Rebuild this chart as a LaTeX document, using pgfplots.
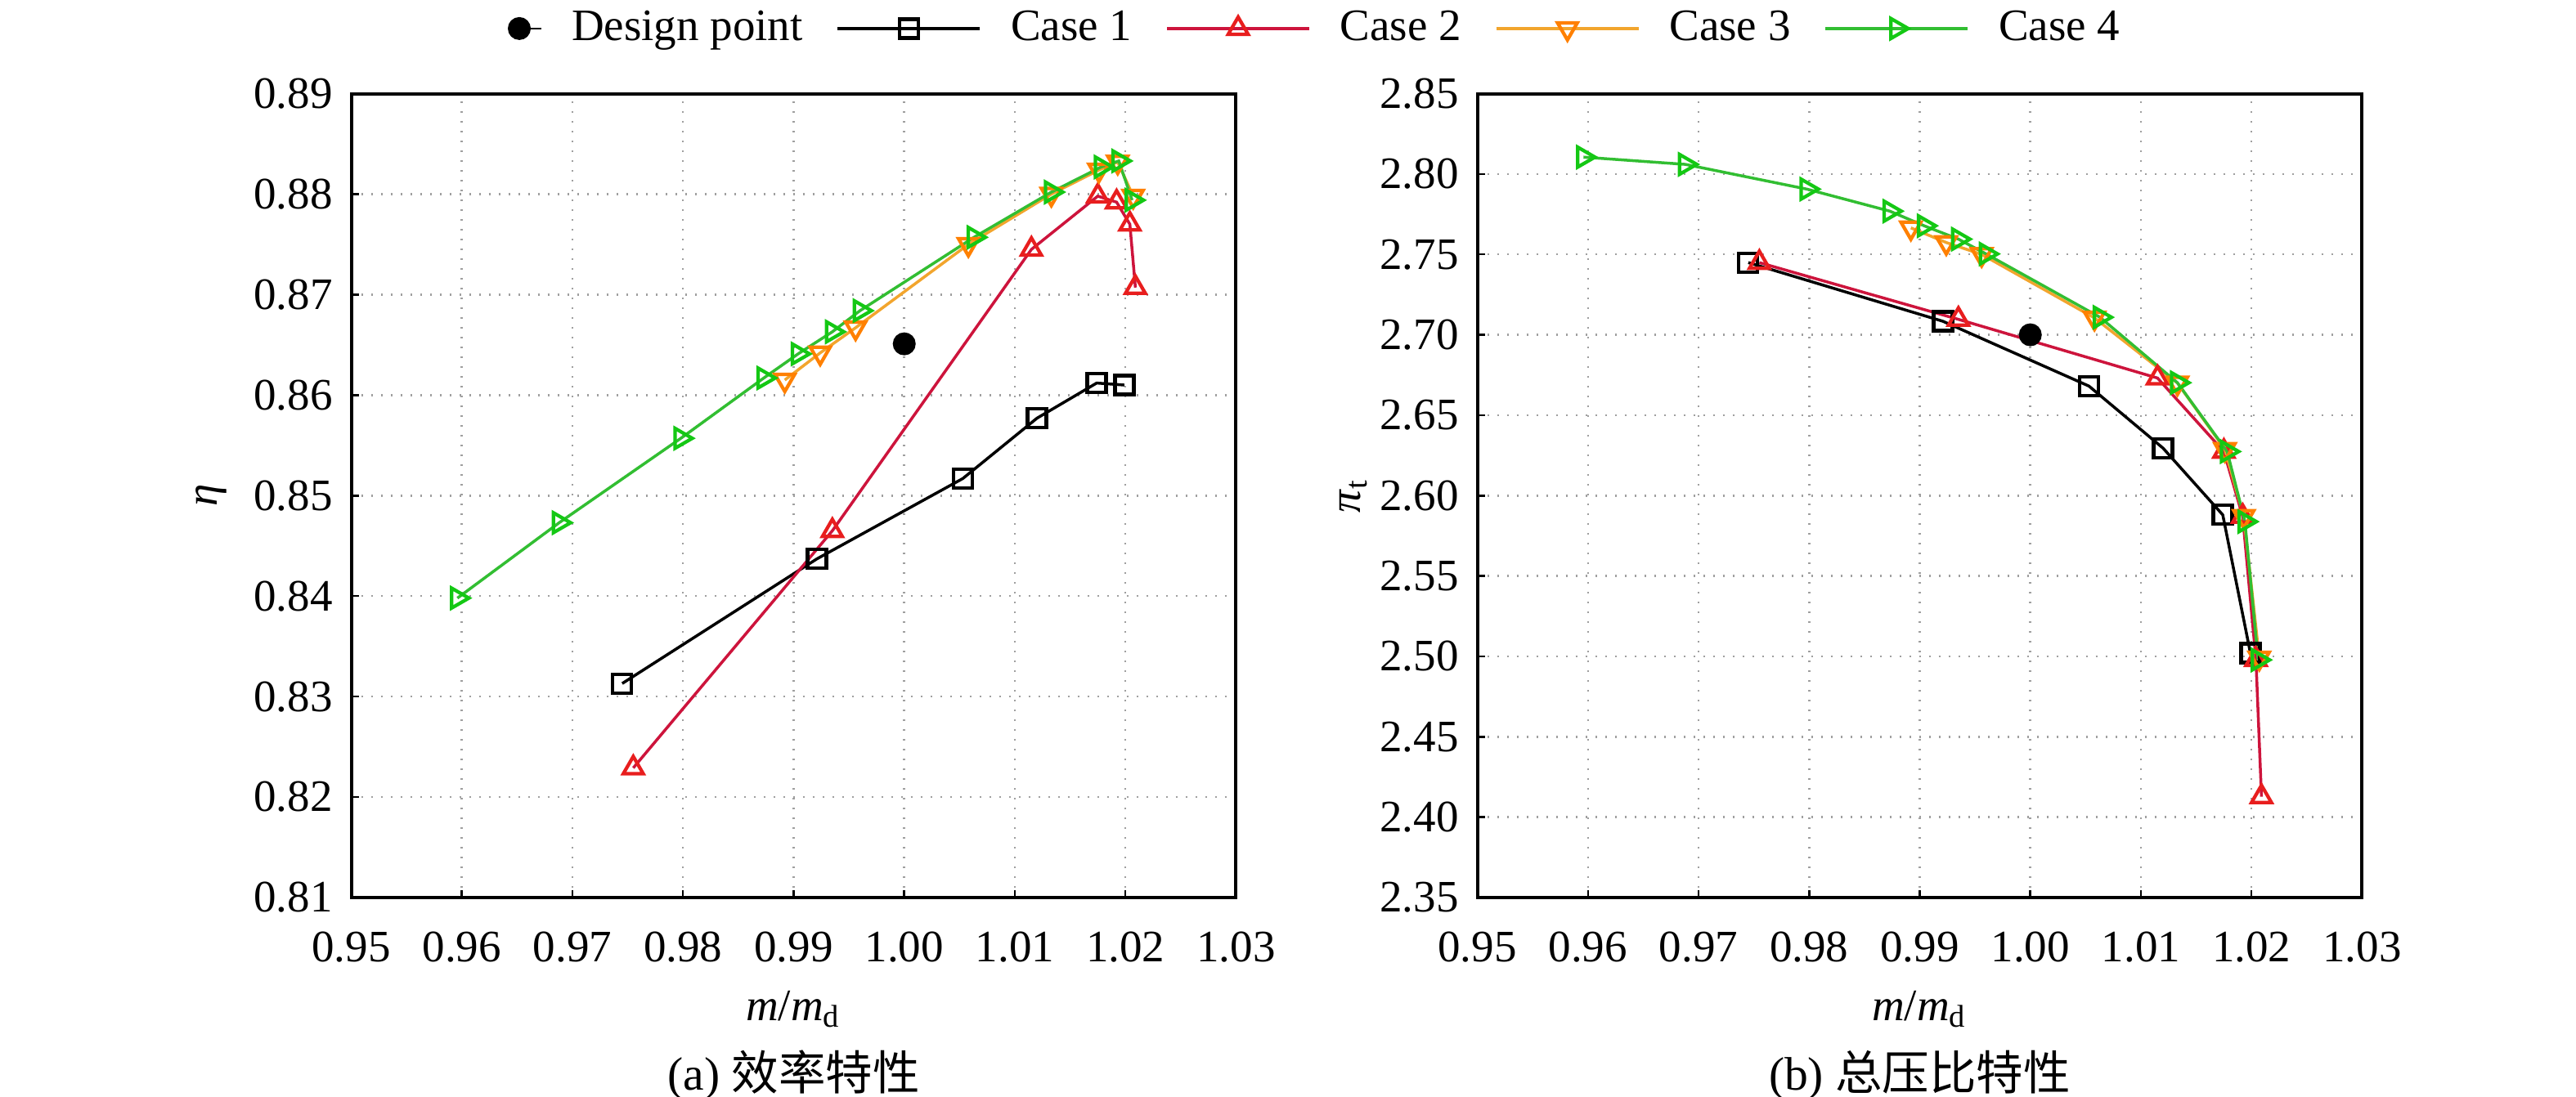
\documentclass[border=0pt]{standalone}
\usepackage{fontspec}
\setmainfont{Liberation Serif}
\newfontfamily\cjk{Noto Sans CJK SC}
\usepackage{pgfplots}
\pgfplotsset{compat=1.18}
\definecolor{cA}{RGB}{0,0,0}
\definecolor{cBl}{RGB}{205,20,60}
\definecolor{cBm}{RGB}{232,30,30}
\definecolor{cCl}{RGB}{242,165,45}
\definecolor{cCm}{RGB}{255,128,0}
\definecolor{cDl}{RGB}{50,190,50}
\definecolor{cDm}{RGB}{20,200,20}
\pgfplotsset{
  myaxis/.style={
    scale only axis, width=216.4pt, height=196.7pt,
    xmin=0.95, xmax=1.03, xtick distance=0.01,
    grid=major, major grid style={dotted, gray!75, line width=0.5pt},
    axis line style={line width=0.8pt},
    tick align=inside, xtick pos=bottom, ytick pos=left,
    major tick length=1.8pt, tick style={black, line width=0.5pt},
    /pgf/number format/assume math mode=true,
    /pgf/number format/fixed, /pgf/number format/fixed zerofill,
    /pgf/number format/precision=2,
    tick label style={font=\fontsize{11}{13}\selectfont},
    xticklabel style={anchor=base, yshift=-15.6pt},
    yticklabel style={anchor=east, inner sep=0pt, xshift=-4.4pt},
    label style={font=\fontsize{11}{13}\selectfont},
    xlabel={\textit{m}/\textit{m}\textsubscript{d}},
    xlabel style={at={(axis description cs:0.5,-0.153)}, anchor=base},
    title style={at={(axis description cs:0.5,-0.2105)}, anchor=center, yshift=-8pt, font=\fontsize{11.5}{13}\selectfont},
    scaled ticks=false,
    legend image code/.code={\draw[mark repeat=2,mark phase=2,#1] plot coordinates {(0pt,0pt) (17.4pt,0pt) (34.8pt,0pt)};},
  },
  dp/.style={only marks, mark=*, mark size=2.6pt, black,
    legend image code/.code={\draw[#1] plot coordinates {(0pt,0pt)}; \path (-2.6pt,0pt) -- (5.4pt,0pt);}},
  c1/.style={color=cA, line width=0.7pt, mark=square, mark size=2.3pt, mark options={solid, line width=0.85pt, draw=cA, fill=none}},
  c2/.style={color=cBl, line width=0.7pt, mark=triangle, mark size=2.8pt, mark options={solid, line width=0.85pt, draw=cBm, fill=none}},
  c3/.style={color=cCl, line width=0.7pt, mark=triangle, mark size=2.8pt, mark options={solid, rotate=180, line width=0.85pt, draw=cCm, fill=none}},
  c4/.style={color=cDl, line width=0.7pt, mark=triangle, mark size=2.8pt, mark options={solid, rotate=-90, line width=0.85pt, draw=cDm, fill=none}},
}
\begin{document}
\begin{tikzpicture}
\path[use as bounding box] (0pt,0pt) rectangle (630pt,268.2pt);
\begin{axis}[myaxis, at={(85.9pt,48.6pt)}, anchor=south west,
  ymin=0.81, ymax=0.89, ytick distance=0.01,
  ylabel={\textit{η}},
  ylabel style={at={(axis description cs:-0.158,0.5)}, anchor=center, rotate=0},
  title={(a) {\cjk 效率特性}},
  legend columns=5,
  legend style={at={(axis description cs:0.177,1.081)}, anchor=west, draw=none, fill=none,
    font=\fontsize{11}{13}\selectfont, inner sep=0pt, outer sep=0pt,
    nodes={inner sep=0pt},
    /tikz/every odd column/.append style={column sep=7.2pt},
    /tikz/every even column/.append style={column sep=8.2pt}},
]
\addplot[dp] coordinates {(1.0000,0.8651)};
\addlegendentry{Design point}
\addplot[c1] coordinates {(0.9745,0.8313) (0.9921,0.8437) (1.0053,0.8517) (1.0120,0.8577) (1.0174,0.8612) (1.0199,0.8610)};
\addlegendentry{Case 1}
\addplot[c2] coordinates {(0.9755,0.8229) (0.9935,0.8465) (1.0115,0.8745) (1.0175,0.8798) (1.0192,0.8792) (1.0204,0.8770) (1.0209,0.8707)};
\addlegendentry{Case 2}
\addplot[c3] coordinates {(0.9892,0.8615) (0.9924,0.8642) (0.9956,0.8667) (1.0058,0.8750) (1.0133,0.8800) (1.0176,0.8824) (1.0193,0.8832) (1.0207,0.8798)};
\addlegendentry{Case 3}
\addplot[c4] coordinates {(0.9596,0.8398) (0.9688,0.8473) (0.9798,0.8557) (0.9873,0.8617) (0.9904,0.8641) (0.9935,0.8663) (0.9960,0.8684) (1.0063,0.8757) (1.0133,0.8802) (1.0178,0.8827) (1.0194,0.8833) (1.0206,0.8794)};
\addlegendentry{Case 4}
\end{axis}
\begin{axis}[myaxis, at={(361.3pt,48.6pt)}, anchor=south west,
  ymin=2.35, ymax=2.85, ytick distance=0.05,
  ylabel={\textit{π}\textsubscript{t}},
  ylabel style={at={(axis description cs:-0.14,0.5)}, anchor=center, rotate=0},
  title={(b) {\cjk 总压比特性}},
]
\addplot[dp] coordinates {(1.0000,2.7000)};
\addplot[c1] coordinates {(0.9745,2.7449) (0.9921,2.7084) (1.0053,2.6681) (1.0120,2.6295) (1.0174,2.5880) (1.0199,2.5020)};
\addplot[c2] coordinates {(0.9755,2.7449) (0.9935,2.7096) (1.0115,2.6731) (1.0175,2.6274) (1.0192,2.5870) (1.0204,2.4980) (1.0209,2.4127)};
\addplot[c3] coordinates {(0.9892,2.7665) (0.9924,2.7574) (0.9956,2.7500) (1.0058,2.7105) (1.0133,2.6700) (1.0176,2.6287) (1.0193,2.5870) (1.0207,2.4990)};
\addplot[c4] coordinates {(0.9596,2.8105) (0.9688,2.8060) (0.9798,2.7906) (0.9873,2.7769) (0.9904,2.7678) (0.9935,2.7595) (0.9960,2.7503) (1.0063,2.7109) (1.0133,2.6702) (1.0178,2.6274) (1.0194,2.5838) (1.0206,2.4978)};
\end{axis}
\end{tikzpicture}
\end{document}
